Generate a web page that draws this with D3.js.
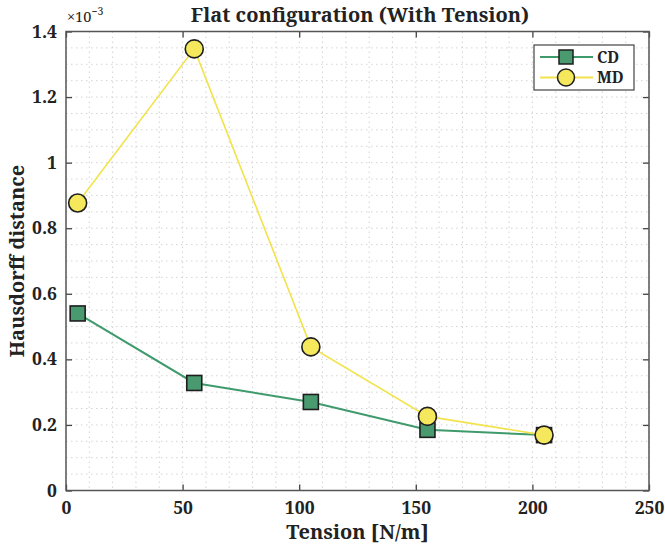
<!DOCTYPE html>
<html><head><meta charset="utf-8">
<script src="https://cdn.jsdelivr.net/npm/d3@7"></script>
<style>body{margin:0;background:#fff;}</style>
</head><body>
<script>
const tension = [5, 55, 105, 155, 205];
const cdValues = [0.54, 0.328, 0.27, 0.185, 0.169];
const mdValues = [0.877, 1.347, 0.438, 0.226, 0.169];
const xTicks = [0, 50, 100, 150, 200, 250];
const yTicks = [0, 0.2, 0.4, 0.6, 0.8, 1, 1.2, 1.4];
const seriesNames = ["CD", "MD"];

const FONT = "'Noto Serif', 'DejaVu Serif', 'Liberation Serif'";
const W = 665, H = 546;
const L = 66, R = 649, T = 31.5, B = 490.5;
const svg = d3.select("body").append("svg").attr("width", W).attr("height", H);
const x = d3.scaleLinear().domain([0, 250]).range([L, R]);
const y = d3.scaleLinear().domain([0, 1.4]).range([B, T]);
function txt(sel, size, bold = true) {
  return sel.style("font-family", FONT).style("font-weight", bold ? "bold" : "normal").style("font-size", size + "px").style("fill", "#222");
}

// grid (minor dotted)
const g = svg.append("g");
g.selectAll("line.vx").data(d3.range(0, 251, 10)).join("line")
  .attr("x1", d => x(d)).attr("x2", d => x(d)).attr("y1", T).attr("y2", B)
  .attr("stroke", "#d4d4d4").attr("stroke-width", 1).attr("stroke-dasharray", "1.5,3.5");
g.selectAll("line.hy").data(d3.range(0, 28).map(i => i * 0.05)).join("line")
  .attr("y1", d => y(d)).attr("y2", d => y(d)).attr("x1", L).attr("x2", R)
  .attr("stroke", "#d4d4d4").attr("stroke-width", 1).attr("stroke-dasharray", "1.5,3.5");

// axes
const xAxB = d3.axisBottom(x).tickValues(xTicks).tickSizeInner(-6).tickSizeOuter(0).tickPadding(11);
const xAxT = d3.axisTop(x).tickValues(xTicks).tickSizeInner(-6).tickSizeOuter(0).tickFormat("");
const yAxL = d3.axisLeft(y).tickValues(yTicks).tickSizeInner(-6).tickSizeOuter(0).tickPadding(9).tickFormat(d => d3.format("~g")(d));
const yAxR = d3.axisRight(y).tickValues(yTicks).tickSizeInner(-6).tickSizeOuter(0).tickFormat("");
function style(sel){ sel.select(".domain").remove(); sel.selectAll("line").attr("stroke","#444").attr("stroke-width",1.3); txt(sel.selectAll("text"), 17.5); }
svg.append("g").attr("transform", `translate(0,${B})`).call(xAxB).call(style);
svg.append("g").attr("transform", `translate(0,${T})`).call(xAxT).call(style);
svg.append("g").attr("transform", `translate(${L},0)`).call(yAxL).call(style);
svg.append("g").attr("transform", `translate(${R},0)`).call(yAxR).call(style);
svg.append("rect").attr("x", L).attr("y", T).attr("width", R - L).attr("height", B - T)
  .attr("fill", "none").attr("stroke", "#555").attr("stroke-width", 1.5);

// lines
const cdColor = "#3f9a6c", mdColor = "#f2e34c";
const line = d3.line().x(d => x(d[0])).y(d => y(d[1]));
const cd = tension.map((t, i) => [t, cdValues[i]]);
const md = tension.map((t, i) => [t, mdValues[i]]);
svg.append("path").datum(cd).attr("d", line).attr("fill", "none").attr("stroke", cdColor).attr("stroke-width", 2);
svg.append("path").datum(md).attr("d", line).attr("fill", "none").attr("stroke", mdColor).attr("stroke-width", 1.6);
const sq = 15;
svg.selectAll("rect.cd").data(cd).join("rect")
  .attr("x", d => x(d[0]) - sq / 2).attr("y", d => y(d[1]) - sq / 2).attr("width", sq).attr("height", sq)
  .attr("fill", "#4a9a70").attr("stroke", "#1e1e1e").attr("stroke-width", 1.6);
svg.selectAll("circle.md").data(md).join("circle")
  .attr("cx", d => x(d[0])).attr("cy", d => y(d[1])).attr("r", 9)
  .attr("fill", "#f5e85c").attr("stroke", "#1e1e1e").attr("stroke-width", 1.6);

// title & labels
txt(svg.append("text").attr("x", 360).attr("y", 21.5).attr("text-anchor", "middle"), 20).text("Flat configuration (With Tension)");
const ex = txt(svg.append("text").attr("x", 67).attr("y", 22), 14.5, false);
ex.append("tspan").text("×10");
ex.append("tspan").attr("dy", -7).style("font-size", "10.5px").text("−3");
txt(svg.append("text").attr("x", (L + R) / 2).attr("y", 539).attr("text-anchor", "middle"), 20).text("Tension [N/m]");
txt(svg.append("text").attr("transform", `translate(24,${(T + B) / 2}) rotate(-90)`).attr("text-anchor", "middle"), 20).text("Hausdorff distance");

// legend
const lg = svg.append("g");
lg.append("rect").attr("x", 534).attr("y", 45).attr("width", 100).attr("height", 45).attr("fill", "#fff").attr("stroke", "#444").attr("stroke-width", 1.2);
const items = [{n: seriesNames[0], c: cdColor, t: "sq"}, {n: seriesNames[1], c: mdColor, t: "c"}];
items.forEach((it, i) => {
  const yy = 57 + i * 20.5;
  lg.append("line").attr("x1", 540).attr("x2", 593).attr("y1", yy).attr("y2", yy).attr("stroke", it.c).attr("stroke-width", 2);
  if (it.t === "sq") lg.append("rect").attr("x", 566 - 7).attr("y", yy - 7).attr("width", 14).attr("height", 14).attr("fill", "#4a9a70").attr("stroke", "#1e1e1e").attr("stroke-width", 1.5);
  else lg.append("circle").attr("cx", 566).attr("cy", yy).attr("r", 8.5).attr("fill", "#f5e85c").attr("stroke", "#1e1e1e").attr("stroke-width", 1.5);
  txt(lg.append("text").attr("x", 597).attr("y", yy + 5.5), 15.5).text(it.n);
});
</script>
</body></html>
